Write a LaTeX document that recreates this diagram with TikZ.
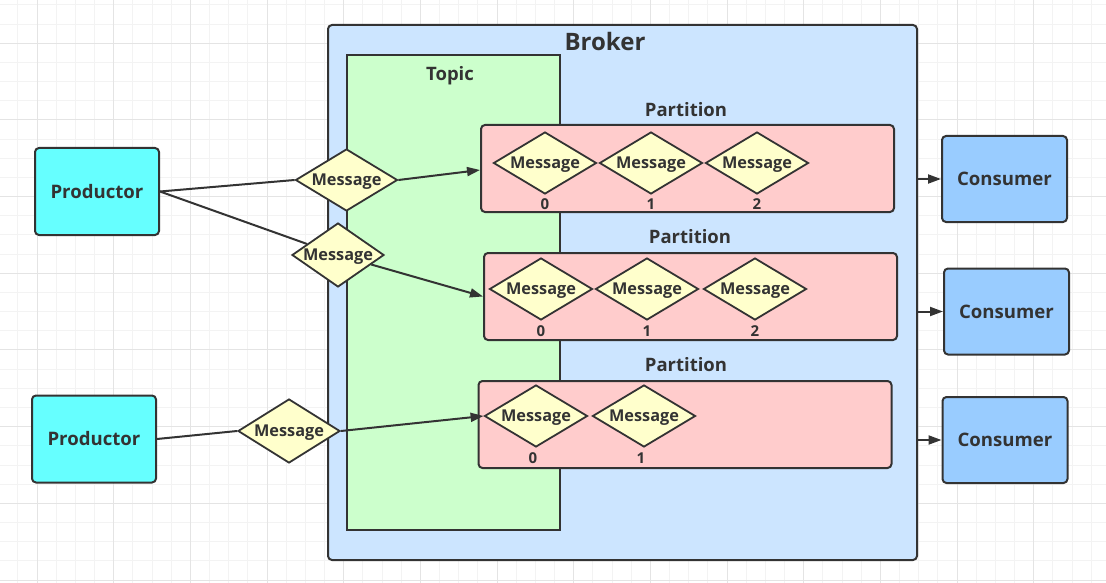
\documentclass[tikz,border=0pt]{standalone}
\usepackage{fontspec}
\setmainfont{Open Sans}
\usetikzlibrary{shapes.geometric,arrows.meta}
\definecolor{ink}{HTML}{333333}
\definecolor{gridminor}{HTML}{F3F3F3}
\definecolor{gridmajor}{HTML}{E4E4E4}
\definecolor{brokerfill}{HTML}{CCE5FF}
\definecolor{topicfill}{HTML}{CCFFCC}
\definecolor{partfill}{HTML}{FFCCCC}
\definecolor{msgfill}{HTML}{FFFFCC}
\definecolor{prodfill}{HTML}{66FFFF}
\definecolor{consfill}{HTML}{99CCFF}
\tikzset{
  box/.style={draw=ink, line width=2pt, rounded corners=4pt, inner sep=0pt},
  prodbox/.style={box, fill=prodfill, minimum width=124pt, minimum height=87pt, font=\bfseries\fontsize{18.6}{20}\selectfont, text=ink},
  consbox/.style={box, fill=consfill, minimum width=125pt, minimum height=86pt, font=\bfseries\fontsize{18.6}{20}\selectfont, text=ink},
  partbox/.style={box, fill=partfill, minimum width=413pt, minimum height=87pt},
  msg/.style={diamond, draw=ink, line width=1.8pt, fill=msgfill, aspect=1.65, inner sep=0pt, minimum width=103pt, minimum height=62pt, font=\bfseries\fontsize{16.3}{18}\selectfont, text=ink, text depth=0pt},
  idx/.style={font=\bfseries\fontsize{15}{17}\selectfont, text=ink, inner sep=0pt},
  title/.style={font=\bfseries\fontsize{18.5}{20}\selectfont, text=ink, inner sep=0pt},
  link/.style={draw=ink, line width=2pt},
  arr/.style={link, -{Triangle[length=13pt,width=9pt]}},
}
\begin{document}
\begin{tikzpicture}[x=1pt,y=-1pt]
\useasboundingbox (0,0) rectangle (1106,583);
\fill[white] (0,0) rectangle (1106,583);
% grid
\foreach \i in {-2,...,57} {
  \pgfmathsetmacro\xx{37+19.1667*\i}
  \draw[gridminor, line width=1pt] (\xx,0) -- (\xx,583);
}
\foreach \i in {-3,...,29} {
  \pgfmathsetmacro\yy{43.33+19.1667*\i}
  \draw[gridminor, line width=1pt] (0,\yy) -- (1106,\yy);
}
\foreach \i in {0,...,14} {
  \pgfmathsetmacro\xx{37+76.667*\i}
  \draw[gridmajor, line width=1pt] (\xx,0) -- (\xx,583);
}
\foreach \i in {-1,...,7} {
  \pgfmathsetmacro\yy{43.33+76.667*\i}
  \draw[gridmajor, line width=1pt] (0,\yy) -- (1106,\yy);
}
% broker and topic
\node[box, fill=brokerfill, minimum width=589pt, minimum height=535pt] (broker) at (622.5,292.5) {};
\node[font=\bfseries\fontsize{24}{26}\selectfont, text=ink, inner sep=0pt] (brokert) at (605,42) {Broker};
\node[draw=ink, line width=1.6pt, fill=topicfill, minimum width=213pt, minimum height=475pt, inner sep=0pt] (topic) at (453.5,292.5) {};
\node[title] (topict) at (450,75.5) {Topic};
% partitions
\node[partbox] (p1) at (687.5,168.5) {};
\node[title] (p1t) at (686,110) {Partition};
\node[partbox] (p2) at (690.5,296.5) {};
\node[title] (p2t) at (690,237) {Partition};
\node[partbox] (p3) at (685,424.5) {};
\node[title] (p3t) at (686,365) {Partition};
% inner messages
\node[msg] (a0) at (545,163) {Message};
\node[msg] (a1) at (651,163) {Message};
\node[msg] (a2) at (757,163) {Message};
\node[idx] (a0i) at (545,204) {0};
\node[idx] (a1i) at (651,204) {1};
\node[idx] (a2i) at (757,204) {2};
\node[msg] (b0) at (541,289) {Message};
\node[msg] (b1) at (647,289) {Message};
\node[msg] (b2) at (755,289) {Message};
\node[idx] (b0i) at (541,331) {0};
\node[idx] (b1i) at (647,331) {1};
\node[idx] (b2i) at (755,331) {2};
\node[msg] (c0) at (536,416) {Message};
\node[msg] (c1) at (644,416) {Message};
\node[idx] (c0i) at (533,458) {0};
\node[idx] (c1i) at (641,458) {1};
% producers and consumers
\node[prodbox] (prod1) at (97,191.5) {Productor};
\node[prodbox] (prod2) at (94,439) {Productor};
\node[consbox] (cons1) at (1004.5,179) {Consumer};
\node[consbox] (cons2) at (1006.5,311.5) {Consumer};
\node[consbox] (cons3) at (1005,440) {Consumer};
% sent messages
\node[msg, minimum width=102pt] (m1) at (346.5,180) {Message};
\node[msg, minimum width=92pt, minimum height=64pt, aspect=1.44] (m2) at (338,255) {Message};
\node[msg, minimum width=102pt, minimum height=64pt] (m3) at (289,431) {Message};
% connectors
\draw[link] (prod1.east) -- (m1.west);
\draw[link] (prod1.east) -- (m2);
\draw[link] (prod2.east) -- (m3.west);
\draw[arr] (m1.east) -- (p1.west |- 0,170);
\draw[arr] (m2) -- (p2.west);
\draw[arr] (m3.east) -- (c0.west);
\draw[arr] (broker.east |- cons1.west) -- (cons1.west);
\draw[arr] (broker.east |- cons2.west) -- (cons2.west);
\draw[arr] (broker.east |- cons3.west) -- (cons3.west);
\end{tikzpicture}
\end{document}
